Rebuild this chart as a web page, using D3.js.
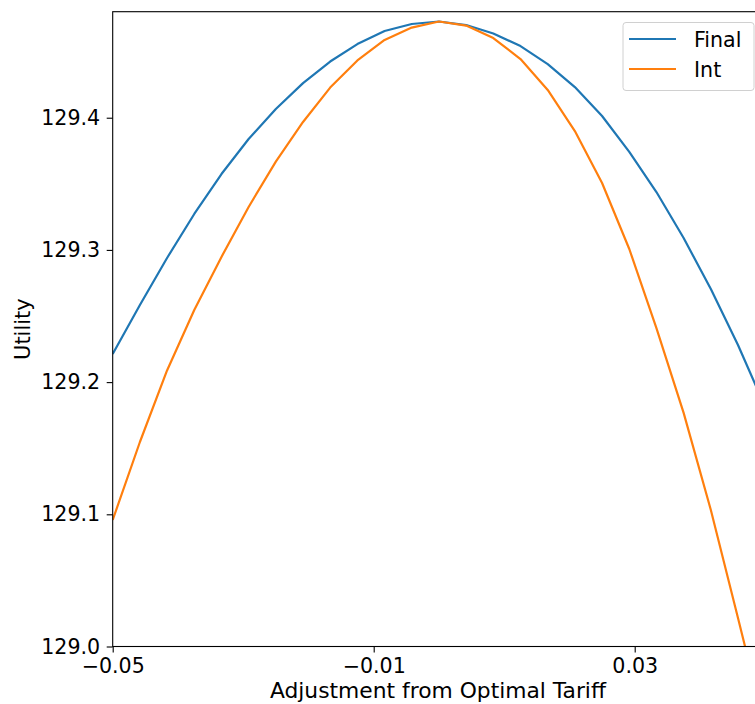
<!DOCTYPE html>
<html>
<head>
<meta charset="utf-8">
<script src="https://cdn.jsdelivr.net/npm/d3@7"></script>
<style>
  body { margin: 0; background: #fff; }
  text { font-family: "DejaVu Sans", sans-serif; fill: #000; }
</style>
</head>
<body>
<script>
// tariff adjustments (x grid)
const adjustments = [-0.05, -0.04583, -0.04167, -0.0375, -0.03333, -0.02917, -0.025, -0.02083,
  -0.01667, -0.0125, -0.00833, -0.00417, 0, 0.00417, 0.00833, 0.0125, 0.01667, 0.02083,
  0.025, 0.02917, 0.03333, 0.0375, 0.04167, 0.04583, 0.05];

// utility, final vs intermediate
const finalUtility = [129.2213, 129.2583, 129.2939, 129.3272, 129.3574, 129.3839, 129.4066, 129.4262,
  129.4425, 129.4557, 129.4656, 129.4709, 129.4728, 129.4701, 129.4637, 129.4542, 129.4406, 129.4232,
  129.4013, 129.3741, 129.3438, 129.3090, 129.2704, 129.2281, 129.1812];
const intUtility = [129.0957, 129.1547, 129.2088, 129.2545, 129.2947, 129.3325, 129.3668, 129.3968,
  129.4228, 129.4433, 129.4588, 129.4682, 129.4728, 129.4697, 129.4603, 129.4444, 129.4210, 129.3899,
  129.3506, 129.3007, 129.2409, 129.1767, 129.1033, 129.0216, 128.9384];

const seriesNames = ["Final", "Int"];
const seriesColors = ["#1f77b4", "#ff7f0e"];
const xTicks = [-0.05, -0.01, 0.03];
const yTicks = [129.0, 129.1, 129.2, 129.3, 129.4];

const width = 755, height = 704;
const plotL = 112.7, plotR = 765.2, plotT = 11.7, plotB = 646.5;

const svg = d3.select("body").append("svg").attr("width", width).attr("height", height);

const x = d3.scaleLinear().domain([-0.05, 0.05]).range([plotL, plotR]);
const y = d3.scaleLinear().domain([129.0, 129.4802]).range([plotB, plotT]);

svg.append("clipPath").attr("id", "plot")
  .append("rect").attr("x", plotL).attr("y", plotT).attr("width", plotR - plotL).attr("height", plotB - plotT);

const line = d3.line().x((d) => x(d[0])).y((d) => y(d[1]));

[finalUtility, intUtility].forEach(function(vals, i) {
  svg.append("path")
    .datum(adjustments.map((a, j) => [a, vals[j]]))
    .attr("clip-path", "url(#plot)")
    .attr("fill", "none")
    .attr("stroke", seriesColors[i])
    .attr("stroke-width", 2.2)
    .attr("stroke-linejoin", "round")
    .attr("d", line);
});

// frame
svg.append("rect")
  .attr("x", plotL).attr("y", plotT).attr("width", plotR - plotL).attr("height", plotB - plotT)
  .attr("fill", "none").attr("stroke", "#000").attr("stroke-width", 1.1);

const xAxis = svg.append("g").attr("transform", `translate(0,${plotB})`)
  .call(d3.axisBottom(x).tickValues(xTicks).tickFormat(d3.format(".2f")).tickSize(6).tickPadding(6));
const yAxis = svg.append("g").attr("transform", `translate(${plotL},0)`)
  .call(d3.axisLeft(y).tickValues(yTicks).tickFormat(d3.format(".1f")).tickSize(6).tickPadding(6.5));

[xAxis, yAxis].forEach(function(g) {
  g.select(".domain").remove();
  g.selectAll(".tick line").attr("stroke", "#000").attr("stroke-width", 1.1);
  g.selectAll(".tick text").attr("font-size", 20.6).attr("font-family", "DejaVu Sans").attr("fill", "#000");
});

svg.append("text")
  .attr("x", (plotL + plotR) / 2 - 1).attr("y", 698)
  .attr("text-anchor", "middle").attr("font-size", 21.8)
  .text("Adjustment from Optimal Tariff");

svg.append("text")
  .attr("transform", `translate(30,${(plotT + plotB) / 2}) rotate(-90)`)
  .attr("text-anchor", "middle").attr("font-size", 21)
  .text("Utility");

// legend
const legend = svg.append("g");
legend.append("rect")
  .attr("x", 623).attr("y", 22.5).attr("width", 131).attr("height", 68)
  .attr("rx", 3).attr("fill", "#fff").attr("fill-opacity", 0.8)
  .attr("stroke", "#d0d0d0").attr("stroke-width", 1);
seriesNames.forEach(function(name, i) {
  const ly = 39 + i * 30;
  legend.append("line")
    .attr("x1", 629).attr("x2", 676).attr("y1", ly).attr("y2", ly)
    .attr("stroke", seriesColors[i]).attr("stroke-width", 2.2);
  legend.append("text")
    .attr("x", 694).attr("y", ly + 8).attr("font-size", 20.6)
    .text(name);
});
</script>
</body>
</html>
